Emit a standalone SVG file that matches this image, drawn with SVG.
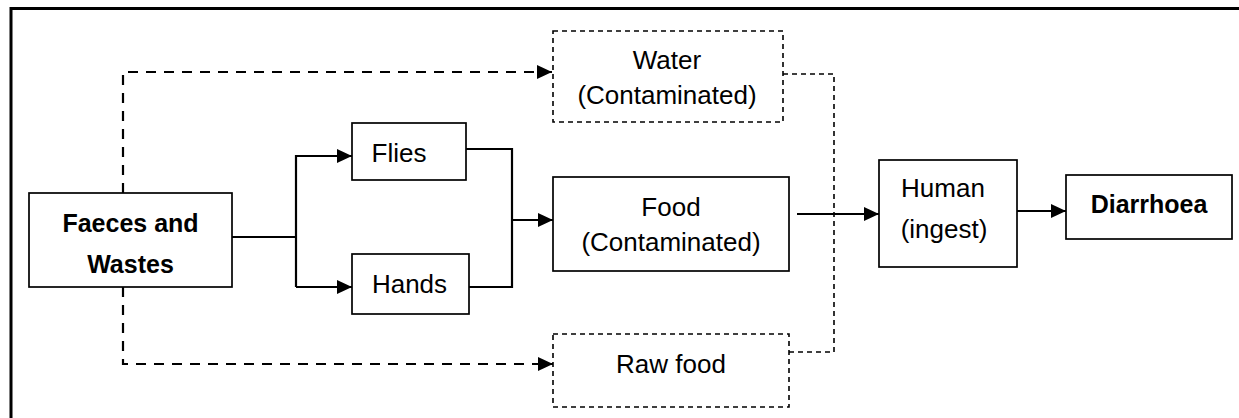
<svg xmlns="http://www.w3.org/2000/svg" width="1239" height="418" viewBox="0 0 1239 418">
<style>
.box{fill:#fff;stroke:#000;stroke-width:1.7}
.dbox{fill:#fff;stroke:#000;stroke-width:1.6;stroke-dasharray:5 4}
.ln{fill:none;stroke:#000;stroke-width:2.2}
.dln{fill:none;stroke:#000;stroke-width:2.2;stroke-dasharray:10 8}
.dcon{fill:none;stroke:#000;stroke-width:1.6;stroke-dasharray:5 4}
text{font-family:"Liberation Sans",Arial,sans-serif;font-size:26px;text-anchor:middle;fill:#000}
.b{font-weight:bold;font-size:25px}
</style>
<defs>
<marker id="arr" markerUnits="userSpaceOnUse" markerWidth="15" markerHeight="14" refX="15" refY="7" orient="auto">
<path d="M0,0 L15,7 L0,14 Z" fill="#000"/>
</marker>
</defs>
<rect width="1239" height="418" fill="#fff"/>
<g id="frame">
<path d="M11,418 V8.5 H1239" fill="none" stroke="#000" stroke-width="3"/>
</g>
<g id="connectors">
<path class="ln" d="M232,237 H296"/>
<path class="ln" d="M296,287 V156 H352" marker-end="url(#arr)"/>
<path class="ln" d="M296,287 H352" marker-end="url(#arr)"/>
<path class="ln" d="M466,149 H512 V287 H469"/>
<path class="ln" d="M512,220 H553" marker-end="url(#arr)"/>
<path class="dln" d="M123,193 V72 H552" marker-end="url(#arr)"/>
<path class="dln" d="M123,287 V364 H553" marker-end="url(#arr)"/>
<path class="dcon" d="M783,74 H834 V352 H789"/>
<path class="ln" d="M797,214 H879" marker-end="url(#arr)"/>
<path class="ln" d="M1017,211 H1066" marker-end="url(#arr)"/>
</g>
<g id="faeces">
<rect class="box" x="29" y="193" width="203" height="94"/>
<text class="b" x="130.5" y="232">Faeces and</text>
<text class="b" x="130.5" y="273">Wastes</text>
</g>
<g id="flies">
<rect class="box" x="352" y="123" width="114" height="57"/>
<text x="399" y="162">Flies</text>
</g>
<g id="hands">
<rect class="box" x="352" y="254" width="117" height="60"/>
<text x="409.5" y="293">Hands</text>
</g>
<g id="water">
<rect class="dbox" x="553" y="31" width="230" height="91"/>
<text x="667" y="69">Water</text>
<text x="667" y="104">(Contaminated)</text>
</g>
<g id="food">
<rect class="box" x="553" y="177" width="236" height="94"/>
<text x="671" y="216">Food</text>
<text x="671" y="251">(Contaminated)</text>
</g>
<g id="rawfood">
<rect class="dbox" x="553" y="334" width="236" height="73"/>
<text x="671" y="373">Raw food</text>
</g>
<g id="human">
<rect class="box" x="879" y="160" width="138" height="107"/>
<text x="943" y="197">Human</text>
<text x="944" y="238">(ingest)</text>
</g>
<g id="diarrhoea">
<rect class="box" x="1066" y="175" width="166" height="64"/>
<text class="b" x="1149" y="213">Diarrhoea</text>
</g>
</svg>
